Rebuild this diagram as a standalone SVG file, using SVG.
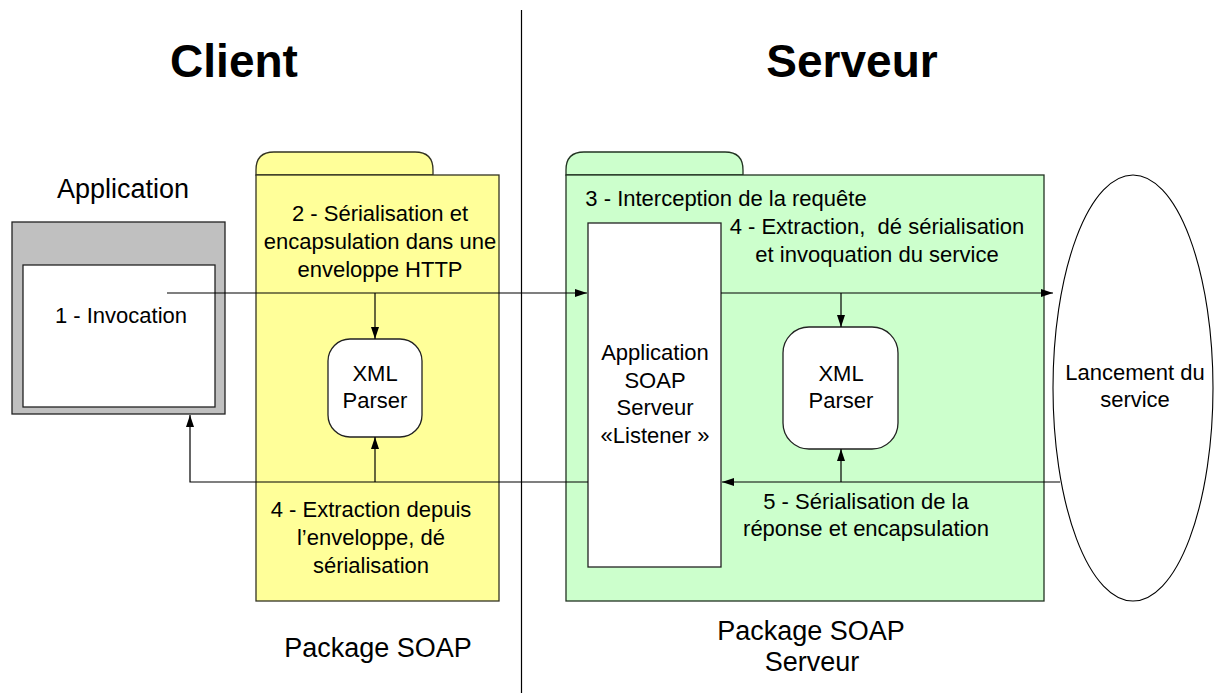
<svg xmlns="http://www.w3.org/2000/svg" width="1215" height="693" viewBox="0 0 1215 693">
  <style>
    text { font-family: "Liberation Sans", Arial, sans-serif; fill: #000; white-space: pre; }
    .title { font-size: 46px; font-weight: bold; text-anchor: middle; }
    .label { font-size: 27px; text-anchor: middle; }
    .body { font-size: 22px; text-anchor: middle; }
    .edge { fill: none; stroke: #000; stroke-width: 1.2; }
    .pkg-y { fill: #FFFF99; stroke: #333322; stroke-width: 1.3; }
    .pkg-g { fill: #CCFFCC; stroke: #223322; stroke-width: 1.3; }
    .box { fill: #fff; stroke: #222; stroke-width: 1.3; }
  </style>
  <defs>
    <marker id="arrow" viewBox="0 0 12 8" refX="12" refY="4" markerWidth="12" markerHeight="8" markerUnits="userSpaceOnUse" orient="auto">
      <path d="M0,0 L12,4 L0,8 Z" fill="#000"/>
    </marker>
  </defs>

  <rect width="1215" height="693" fill="#fff"/>

  <!-- section titles and divider -->
  <g id="titles">
    <text class="title" x="234" y="77">Client</text>
    <text class="title" x="852" y="77">Serveur</text>
    <line x1="521.5" y1="10" x2="521.5" y2="693" stroke="#000" stroke-width="1.2"/>
  </g>

  <!-- client application -->
  <g id="application">
    <text class="label" x="123" y="198">Application</text>
    <rect x="12" y="222" width="213" height="192" fill="#C0C0C0" stroke="#222" stroke-width="1.3"/>
    <rect x="23" y="265" width="192" height="142" class="box"/>
    <text class="body" x="121" y="323">1 - Invocation</text>
  </g>

  <!-- client SOAP package -->
  <g id="package-client">
    <path class="pkg-y" d="M256,175 V170 Q256,152 274,152 H415 Q433,152 433,170 V175 Z"/>
    <rect class="pkg-y" x="256" y="175" width="243" height="426"/>
    <text class="body" x="380" y="221">2 - Sérialisation et</text>
    <text class="body" x="380" y="249">encapsulation dans une</text>
    <text class="body" x="380" y="277">enveloppe HTTP</text>
    <text class="body" x="371" y="517">4 - Extraction depuis</text>
    <text class="body" x="371" y="545">l’enveloppe, dé</text>
    <text class="body" x="371" y="573">sérialisation</text>
    <text class="label" x="378" y="657">Package SOAP</text>
  </g>

  <g id="parser-client">
    <rect class="box" x="328" y="339" width="94" height="98" rx="22" ry="22"/>
    <text class="body" x="375" y="381">XML</text>
    <text class="body" x="375" y="408">Parser</text>
  </g>

  <!-- server SOAP package -->
  <g id="package-server">
    <path class="pkg-g" d="M566,175 V170 Q566,152 584,152 H725 Q743,152 743,170 V175 Z"/>
    <rect class="pkg-g" x="566" y="175" width="478" height="426"/>
    <text class="body" x="726" y="206">3 - Interception de la requête</text>
    <text class="body" x="877" y="234">4 - Extraction,  dé sérialisation</text>
    <text class="body" x="877" y="262">et invoquation du service</text>
    <text class="body" x="866" y="509">5 - Sérialisation de la</text>
    <text class="body" x="866" y="536">réponse et encapsulation</text>
    <text class="label" x="811" y="640">Package SOAP</text>
    <text class="label" x="812" y="671">Serveur</text>
  </g>

  <g id="listener">
    <rect class="box" x="588" y="223" width="133" height="344"/>
    <text class="body" x="655" y="360">Application</text>
    <text class="body" x="655" y="388">SOAP</text>
    <text class="body" x="655" y="415">Serveur</text>
    <text class="body" x="655" y="443">«Listener »</text>
  </g>

  <g id="parser-server">
    <rect class="box" x="783" y="327" width="115" height="122" rx="26" ry="26"/>
    <text class="body" x="841" y="381">XML</text>
    <text class="body" x="841" y="408">Parser</text>
  </g>

  <g id="service">
    <ellipse cx="1133" cy="388" rx="80" ry="213" fill="#fff" stroke="#000" stroke-width="1.1"/>
    <text class="body" x="1135" y="380">Lancement du</text>
    <text class="body" x="1135" y="407">service</text>
  </g>

  <!-- message flow -->
  <g id="connectors">
    <line class="edge" x1="167" y1="293" x2="587" y2="293" marker-end="url(#arrow)"/>
    <line class="edge" x1="375" y1="293" x2="375" y2="339" marker-end="url(#arrow)"/>
    <line class="edge" x1="721" y1="293" x2="1053" y2="293" marker-end="url(#arrow)"/>
    <line class="edge" x1="841" y1="293" x2="841" y2="327" marker-end="url(#arrow)"/>
    <line class="edge" x1="1060" y1="482" x2="722" y2="482" marker-end="url(#arrow)"/>
    <line class="edge" x1="841" y1="482" x2="841" y2="449" marker-end="url(#arrow)"/>
    <polyline class="edge" points="588,482 190,482 190,415" marker-end="url(#arrow)"/>
    <line class="edge" x1="375" y1="482" x2="375" y2="437" marker-end="url(#arrow)"/>
  </g>
</svg>
